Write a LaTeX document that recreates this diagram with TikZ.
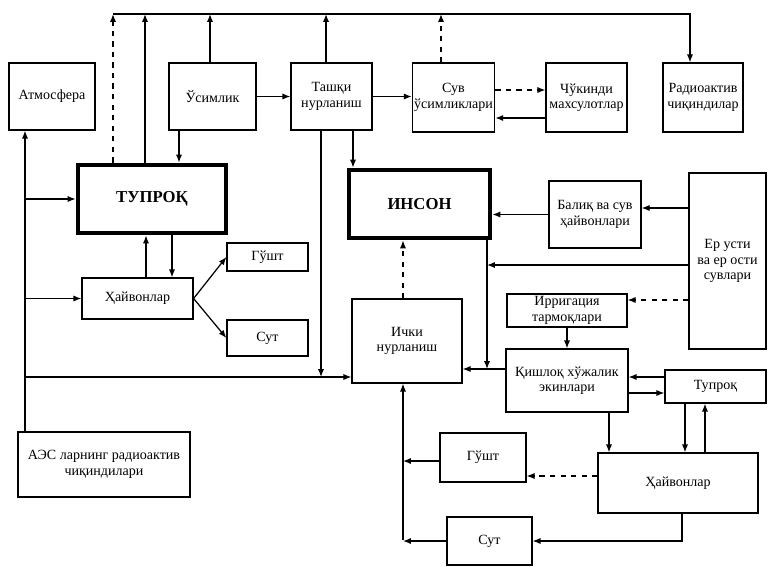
\documentclass[tikz,border=0pt]{standalone}
\usepackage{fontspec}
\setmainfont{Liberation Serif}
\usepackage{tikz}
\usetikzlibrary{calc,arrows.meta}
\usetikzlibrary{positioning}

\tikzset{
  blok/.style={draw, line width=0.7pt, align=center, inner sep=1pt, font=\fontsize{8}{8.8}\selectfont},
  asosiy/.style={blok, line width=2.8pt, font=\fontsize{9.5}{10}\selectfont\bfseries},
}

\begin{document}
\begin{tikzpicture}[x=0.02cm, y=-0.02cm, >={Latex[length=4.5pt,width=3.5pt]}, line width=0.7pt]
\useasboundingbox (0,0) rectangle (768,566);

% yuqori qator
\node[blok, minimum width=1.72cm, minimum height=1.34cm] (atm) at (52,96.5) {Атмосфера};
\node[blok, minimum width=1.74cm, minimum height=1.34cm] (usim) at (212.5,96.5) {Ўсимлик};
\node[blok, minimum width=1.62cm, minimum height=1.34cm] (tashqi) at (331.5,96.5) {Ташқи\\нурланиш};
\node[blok, minimum width=1.62cm, minimum height=1.38cm] (suvus) at (453.5,97.5) {Сув\\ўсимликлари};
\node[blok, minimum width=1.62cm, minimum height=1.38cm] (chuk) at (586.5,97.5) {Чўкинди\\махсулотлар};
\node[blok, minimum width=1.60cm, minimum height=1.38cm] (radio) at (703,97.5) {Радиоактив\\чиқиндилар};

\node[asosiy, minimum width=2.96cm, minimum height=1.36cm] (tuproq) at (152,199) {ТУПРОҚ};
\node[asosiy, minimum width=2.82cm, minimum height=1.36cm] (inson) at (419.5,204) {ИНСОН};
\node[blok, minimum width=1.84cm, minimum height=1.34cm] (baliq) at (595,214.5) {Балиқ ва сув\\ҳайвонлари};
\node[blok, minimum width=1.54cm, minimum height=3.52cm] (yer) at (727.5,261) {Ер усти\\ва ер ости\\сувлари};

\node[blok, minimum width=2.22cm, minimum height=0.82cm] (hayvon) at (137.5,298.5) {Ҳайвонлар};
\node[blok, minimum width=1.62cm, minimum height=0.56cm] (gusht) at (267.5,257) {Гўшт};
\node[blok, minimum width=1.62cm, minimum height=0.72cm] (sut) at (267.5,338) {Сут};

\node[blok, minimum width=2.40cm, minimum height=0.66cm] (irrig) at (567,310.5) {Ирригация\\тармоқлари};
\node[blok, minimum width=2.20cm, minimum height=1.68cm] (ichki) at (407,341) {Ички\\нурланиш};
\node[blok, minimum width=2.44cm, minimum height=1.26cm] (qishloq) at (567,380.5) {Қишлоқ хўжалик\\экинлари};
\node[blok, minimum width=2.02cm, minimum height=0.66cm] (tupr) at (715.5,386.5) {Тупроқ};
\node[blok, minimum width=3.20cm, minimum height=1.20cm] (hayv) at (678,483) {Ҳайвонлар};
\node[blok, minimum width=1.72cm, minimum height=0.98cm] (gush) at (483,457.5) {Гўшт};
\node[blok, minimum width=1.70cm, minimum height=0.96cm] (suut) at (489.5,541) {Сут};

\node[blok, minimum width=3.44cm, minimum height=1.30cm] (aes) at (104,464.5) {АЭС ларнинг радиоактив\\чиқиндилари};

% umumiy chiziq
\coordinate (busL) at (113,14);
\coordinate (busR) at (690,14);
\draw[->] (busL) -- (busR) -- (busR |- radio.north);
\draw[->, dashed] (tuproq.north -| busL) -- (busL);
\draw[->] (tuproq.north -| 145,0) -- (busL -| 145,0);
\draw[->] (usim.north -| 210,0) -- (busL -| 210,0);
\draw[->] (tashqi.north -| 326,0) -- (busL -| 326,0);
\draw[->, dashed] (suvus.north -| 441,0) -- (busL -| 441,0);

\draw[->] (usim.south -| 179,0) -- (tuproq.north -| 179,0);
\draw[->] (usim) -- (tashqi);
\draw[->] (tashqi.east) -- (tashqi.east -| suvus.west);
\draw[->, dashed] (suvus.east |- 0,90) -- (chuk.west |- 0,90);
\draw[->] (chuk.west |- 0,118) -- (suvus.east |- 0,118);

% chap tomon
\coordinate (chap) at (25,377);
\draw[->] (aes.north -| chap) -- (atm.south -| chap);
\draw[->] (chap |- tuproq.west) -- (tuproq.west);
\draw[->] (chap |- hayvon.west) -- (hayvon.west);
\draw[->] (chap) -- (ichki.west |- chap);
\draw[->] (tashqi.south -| 321,0) -- (chap -| 321,0);
\draw[->] (tashqi.south -| 353,0) -- (inson.north -| 353,0);

\draw[->] (hayvon.north -| 146,0) -- (tuproq.south -| 146,0);
\draw[->] (tuproq.south -| 172,0) -- (hayvon.north -| 172,0);
\draw[->] (hayvon.east) -- (gusht.west);
\draw[->] (hayvon.east) -- (sut.west);

% inson atrofi
\coordinate (tik) at (487,369);
\draw[->, dashed] (ichki.north -| 403,0) -- (inson.south -| 403,0);
\draw[->] (baliq.west) -- (baliq.west -| inson.east);
\draw[->] (yer.west |- 0,208) -- (baliq.east |- 0,208);
\draw[->] (yer.west |- 0,265) -- (tik |- 0,265);
\draw[->] (inson.south -| tik) -- (tik);
\draw[->, dashed] (yer.west |- 0,300) -- (irrig.east |- 0,300);
\draw[->] (irrig) -- (qishloq);
\draw[->] (qishloq.west |- tik) -- (ichki.east |- tik);

% pastki qism
\coordinate (past) at (403,540);
\draw[->] (tupr.west |- 0,377) -- (qishloq.east |- 0,377);
\draw[->] (qishloq.east |- 0,393) -- (tupr.west |- 0,393);
\draw[->] (qishloq.south -| 609,0) -- (hayv.north -| 609,0);
\draw[->] (tupr.south -| 685,0) -- (hayv.north -| 685,0);
\draw[->] (hayv.north -| 705,0) -- (tupr.south -| 705,0);
\draw[->, dashed] (hayv.west |- 0,476) -- (gush.east |- 0,476);
\draw[->] (hayv.south -| 682,0) |- (suut.east);
\draw[->] (gush.west |- 0,461) -- (past |- 0,461);
\draw[->] (suut.west) -- (suut.west -| past);
\draw[->] (past) -- (ichki.south -| past);

\end{tikzpicture}
\end{document}
